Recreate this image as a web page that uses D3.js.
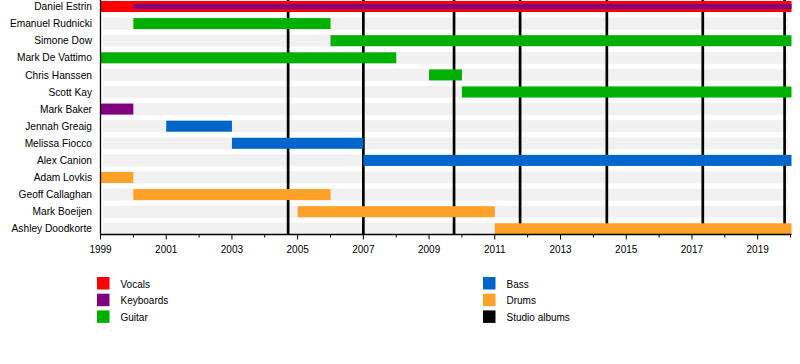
<!DOCTYPE html>
<html><head><meta charset="utf-8">
<script src="https://cdn.jsdelivr.net/npm/d3@7"></script>
<style>body{margin:0;background:#fff}svg{display:block}text{font-family:"Liberation Sans",Arial,sans-serif;fill:#000}</style>
</head><body>
<svg id="c" width="800" height="364"></svg>
<script>
const members = ["Daniel Estrin","Emanuel Rudnicki","Simone Dow","Mark De Vattimo","Chris Hanssen","Scott Kay","Mark Baker","Jennah Greaig","Melissa Fiocco","Alex Canion","Adam Lovkis","Geoff Callaghan","Mark Boeijen","Ashley Doodkorte"];
const END = 2020.03;
// [member, role, start, end]
const periods = [
  ["Daniel Estrin","Vocals",1999,END],
  ["Daniel Estrin","Keyboards",2000,END],
  ["Emanuel Rudnicki","Guitar",2000,2006],
  ["Simone Dow","Guitar",2006,END],
  ["Mark De Vattimo","Guitar",1999,2008],
  ["Chris Hanssen","Guitar",2009,2010],
  ["Scott Kay","Guitar",2010,END],
  ["Mark Baker","Keyboards",1999,2000],
  ["Jennah Greaig","Bass",2001,2003],
  ["Melissa Fiocco","Bass",2003,2007],
  ["Alex Canion","Bass",2007,END],
  ["Adam Lovkis","Drums",1999,2000],
  ["Geoff Callaghan","Drums",2000,2006],
  ["Mark Boeijen","Drums",2005,2011],
  ["Ashley Doodkorte","Drums",2011,END]
];
const albums = [2004.71, 2007.0, 2009.76, 2011.77, 2014.41, 2017.33, 2019.82];
const roles = ["Vocals","Keyboards","Guitar","Bass","Drums","Studio albums"];
const roleColors = ["#ff0000","#800080","#00b000","#0066cc","#ffa028","#000000"];
const tickYears = [1999,2001,2003,2005,2007,2009,2011,2013,2015,2017,2019];
const minorYears = [2000,2002,2004,2006,2008,2010,2012,2014,2016,2018,2020];

const svg = d3.select("#c");
const x = d3.scaleLinear().domain([1999, END]).range([100.5, 791.5]);
const row = d3.scaleLinear().domain([0, members.length-1]).range([1, 223.3]);
const color = d3.scaleOrdinal().domain(roles).range(roleColors);
const barH = 11, axisY = 234.5;

// background bands
svg.append("g").selectAll("rect").data(members).join("rect")
  .attr("x", x.range()[0]+2.5).attr("width", x.range()[1]-x.range()[0]-6)
  .attr("y", (d,i)=>row(i)-0.5).attr("height", barH+1)
  .attr("fill", "#f1f1f1");

// album lines
svg.append("g").selectAll("line").data(albums).join("line")
  .attr("x1", d=>x(d)).attr("x2", d=>x(d)).attr("y1", 0).attr("y2", axisY)
  .attr("stroke", "#000").attr("stroke-width", 2.7);

// bars
svg.append("g").selectAll("rect").data(periods).join("rect")
  .attr("x", d=>x(d[2])).attr("width", d=>x(d[3])-x(d[2]))
  .attr("y", d=>{const t=row(members.indexOf(d[0])); return (d[0]==="Daniel Estrin" && d[1]==="Keyboards") ? t+3 : t;})
  .attr("height", d=>(d[0]==="Daniel Estrin" && d[1]==="Keyboards") ? 5 : barH)
  .attr("fill", d=>color(d[1]));

// names
svg.append("g").selectAll("text").data(members).join("text")
  .attr("x", 92).attr("y", (d,i)=>row(i)+barH/2+3.6)
  .attr("text-anchor","end").style("font-size","10.2px").text(d=>d);

// axes lines
svg.append("line").attr("x1", x.range()[0]).attr("x2", x.range()[0]).attr("y1", 0).attr("y2", axisY).attr("stroke","#000").attr("stroke-width",1.3);
svg.append("line").attr("x1", x.range()[0]).attr("x2", x.range()[1]).attr("y1", axisY).attr("y2", axisY).attr("stroke","#000").attr("stroke-width",1.3);

const gt = svg.append("g");
gt.selectAll("line.maj").data(tickYears).join("line").attr("class","maj")
  .attr("x1", d=>x(d)).attr("x2", d=>x(d)).attr("y1", axisY).attr("y2", axisY+5)
  .attr("stroke","#000").attr("stroke-width",1);
gt.selectAll("line.min").data(minorYears).join("line").attr("class","min")
  .attr("x1", d=>x(d)).attr("x2", d=>x(d)).attr("y1", axisY).attr("y2", axisY+3)
  .attr("stroke","#000").attr("stroke-width",1);
gt.selectAll("text").data(tickYears).join("text")
  .attr("x", d=>x(d)).attr("y", 253).attr("text-anchor","middle")
  .style("font-size","10px").text(d=>d);

// legend
const leg = svg.append("g");
const legItems = roles.map((r,i)=>({r, col: i<3?0:1, k: i%3}));
const lx = [97, 483];
leg.selectAll("rect").data(legItems).join("rect")
  .attr("x", d=>lx[d.col]).attr("y", d=>277+d.k*16.7).attr("width",12.5).attr("height",12.5)
  .attr("fill", d=>color(d.r));
leg.selectAll("text").data(legItems).join("text")
  .attr("x", d=>lx[d.col]+23.5).attr("y", d=>287.5+d.k*16.7)
  .style("font-size","10px").text(d=>d.r);
</script>
</body></html>
